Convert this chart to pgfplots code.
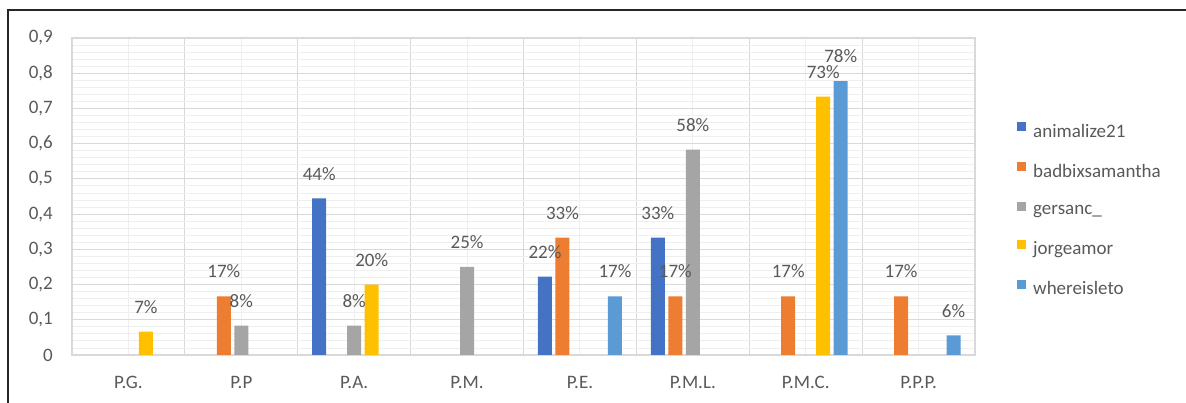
\documentclass[border=0pt]{standalone}
\usepackage{fontspec}
\setmainfont{Carlito}
\usepackage{pgfplots}
\pgfplotsset{compat=1.18}

\definecolor{sBlue}{HTML}{4472C4}
\definecolor{sOrange}{HTML}{ED7D31}
\definecolor{sGray}{HTML}{A5A5A5}
\definecolor{sYellow}{HTML}{FFC000}
\definecolor{sLight}{HTML}{5B9BD5}
\definecolor{txt}{HTML}{595959}
\definecolor{gmaj}{HTML}{D9D9D9}
\definecolor{gmin}{HTML}{EFEFEF}

\newcommand{\chartfont}{\fontsize{19}{22}\selectfont}

\begin{document}
\begin{tikzpicture}
\path[use as bounding box] (0,0) rectangle (1186pt,403pt);
% outer chart frame
\draw[color=black!85, line width=1.4pt] (8pt,-5pt) -- (8pt,393pt) -- (1195pt,393pt);
\begin{axis}[
  at={(72pt,48pt)}, anchor=south west,
  scale only axis, width=903pt, height=317pt,
  xmin=-0.5, xmax=7.5, ymin=0, ymax=0.9,
  ybar=3.5pt, bar width=14pt,
  xtick={0,1,2,3,4,5,6,7},
  xticklabels={P.G.,P.P,P.A.,P.M.,P.E.,P.M.L.,P.M.C.,P.P.P.},
  minor xtick={-0.5,0.5,1.5,2.5,3.5,4.5,5.5,6.5,7.5},
  ytick={0,0.1,0.2,0.3,0.4,0.5,0.6,0.7,0.8,0.9},
  minor y tick num=4,
  xmajorgrids, xminorgrids, ymajorgrids, yminorgrids,
  major x grid style={draw=gmin, line width=0.9pt},
  minor x grid style={draw=gmaj, line width=1.1pt},
  major y grid style={draw=gmaj, line width=1.1pt},
  minor y grid style={draw=gmin, line width=0.9pt},
  axis line style={draw=gmaj, line width=1.1pt},
  tick style={draw=none},
  major tick length=0pt, minor tick length=0pt,
  /pgf/number format/assume math mode=true,
  /pgf/number format/use comma,
  yticklabel style={/pgf/number format/fixed, /pgf/number format/precision=1,
    anchor=east, inner sep=0pt, xshift=-19pt},
  xticklabel style={anchor=north, inner sep=0pt, yshift=-21pt},
  ticklabel style={font=\chartfont, text=txt},
  point meta={y*100},
  nodes near coords={\pgfmathprintnumber[fixed,precision=0]{\pgfplotspointmeta}\%},
  every node near coord/.append style={font=\chartfont, text=txt,
    anchor=south, inner sep=0pt, yshift=18pt},
  legend style={at={(1.0465,0.46)}, anchor=west, draw=none, fill=none,
    inner sep=0pt, row sep=23.5pt, column sep=7pt,
    nodes={inner sep=0pt, font=\chartfont, text=txt},
    legend cell align=left},
  legend image code/.code={\fill[#1] (0pt,0pt) rectangle (9pt,9pt);},
]
% animalize21
\addplot[fill=sBlue, draw=none] coordinates {(2,0.4444) (4,0.2222) (5,0.3333)};
% badbixsamantha
\addplot[fill=sOrange, draw=none] coordinates {(1,0.1667) (4,0.3333) (5,0.1667) (6,0.1667) (7,0.1667)};
% gersanc_
\addplot[fill=sGray, draw=none] coordinates {(1,0.0833) (2,0.0833) (3,0.25) (5,0.5833)};
% jorgeamor
\addplot[fill=sYellow, draw=none] coordinates {(0,0.0667) (2,0.2) (6,0.7333)};
% whereisleto
\addplot[fill=sLight, draw=none] coordinates {(4,0.1667) (6,0.7778) (7,0.0556)};
\legend{animalize21,badbixsamantha,gersanc\_,jorgeamor,whereisleto}
\end{axis}
\end{tikzpicture}
\end{document}
